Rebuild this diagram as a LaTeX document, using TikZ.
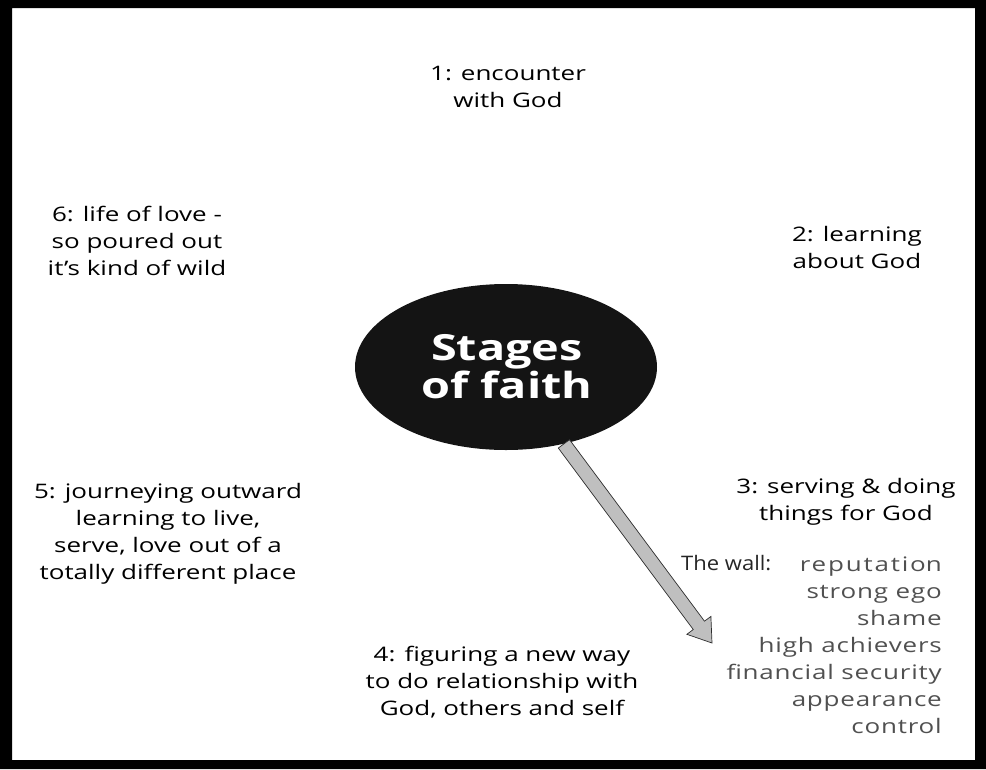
\documentclass[tikz,border=0pt]{standalone}
\usepackage{xcolor}
\usepackage{fontspec}
\setmainfont{Open Sans}[FakeStretch=1.3]
\newfontfamily\wallfont{Open Sans}[FakeStretch=1.1]
\usepackage{tikz}
\usetikzlibrary{calc, shapes.geometric}
\definecolor{wallgray}{RGB}{80,80,80}

\begin{document}
\begin{tikzpicture}[x=1pt, y=-1pt,
  stage/.style={align=center, anchor=base, inner sep=0pt, font=\fontsize{20}{27}\selectfont},
  wallitem/.style={inner sep=0pt, text=wallgray, font=\fontsize{20}{27}\selectfont\addfontfeature{LetterSpace=4}},
  fatarrow/.style={fill=gray!50, draw=gray!35!black, line width=0.7pt, line join=miter}]

\useasboundingbox (0,0) rectangle (986,769);
\fill[black, even odd rule] (0,0) rectangle (986,769) (12,8) rectangle (975,760);

\node[ellipse, fill=black!92, minimum width=302pt, minimum height=166pt, inner sep=0pt] (stages) at (506,367) {};
\node[stage, text=white, font=\fontsize{36}{35}\selectfont\bfseries] (title) at (507,398) {Stages\\of faith};

\node[stage] (encounter) at (508,107) {1: encounter\\with God};
\node[stage] (learning) at (857,268) {2: learning\\about God};
\node[stage] (serving) at (846,520) {3: serving \& doing\\things for God};
\node[stage] (figuring) at (502,715) {4: figuring a new way\\to do relationship with\\God, others and self};
\node[stage] (journey) at (168,579) {5: journeying outward\\learning to live,\\serve, love out of a\\totally different place};
\node[stage] (love) at (137,275) {6: life of love -\\so poured out\\it's kind of wild};

\node[inner sep=0pt, anchor=base west, text=black!85, font=\wallfont\fontsize{20}{27}\selectfont] (wall) at (681,570) {The wall:};
\node[wallitem, align=right, anchor=base east] (walllist) at (942,733) {{\addfontfeature{LetterSpace=9}reputatio}n\\strong ego\\shame\\high achievers\\financial security\\appearance\\control};

\coordinate (tip) at (712,643);
\coordinate (start) at (stages.-53);
\coordinate (neck) at ($(tip)!22pt!(start)$);
\draw[fatarrow] ($(start)!7pt!90:(tip)$) -- ($(neck)!7pt!-90:(start)$) -- ($(neck)!15pt!-90:(start)$)
  -- (tip) -- ($(neck)!15pt!90:(start)$) -- ($(neck)!7pt!90:(start)$) -- ($(start)!7pt!-90:(tip)$) -- cycle;

\end{tikzpicture}
\end{document}
